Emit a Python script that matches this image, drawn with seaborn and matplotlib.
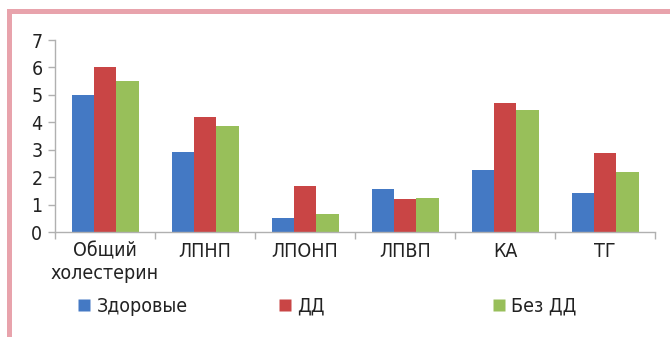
import matplotlib
matplotlib.use("Agg")
import matplotlib.pyplot as plt
from matplotlib.patches import Rectangle
from matplotlib.lines import Line2D
import seaborn as sns
import pandas as pd

categories = ["Общий\nхолестерин", "ЛПНП", "ЛПОНП", "ЛПВП", "КА", "ТГ"]
series_names = ["Здоровые", "ДД", "Без ДД"]
healthy = [5.0, 2.9, 0.5, 1.57, 2.25, 1.43]
dd = [6.0, 4.2, 1.68, 1.2, 4.72, 2.88]
no_dd = [5.5, 3.85, 0.66, 1.24, 4.45, 2.2]
y_ticks = [0, 1, 2, 3, 4, 5, 6, 7]
colors = ["#4479c4", "#c94545", "#98bf5a"]

df = pd.DataFrame({
    "cat": categories * 3,
    "series": [series_names[0]] * 6 + [series_names[1]] * 6 + [series_names[2]] * 6,
    "value": healthy + dd + no_dd,
})

sns.set_theme(style="white")
plt.rcParams["font.family"] = ["DejaVu Sans"]
plt.rcParams["font.stretch"] = "condensed"

fig = plt.figure(figsize=(6.7, 3.37), dpi=100)
fig.patch.set_facecolor("white")

# pink frame (top and left)
fig.add_artist(Rectangle((7 / 670, 0), 5 / 670, (337 - 9) / 337, transform=fig.transFigure,
                         facecolor="#e8a3ac", edgecolor="none"))
fig.add_artist(Rectangle((7 / 670, (337 - 14) / 337), 663 / 670, 5 / 337, transform=fig.transFigure,
                         facecolor="#e8a3ac", edgecolor="none"))

ax = fig.add_axes([55 / 670, 105 / 337, 600 / 670, 192 / 337])
ax.set_facecolor("white")
sns.barplot(data=df, x="cat", y="value", hue="series", palette=colors,
            width=0.67, saturation=1, ax=ax, legend=False, edgecolor="none")

ax.set_xlim(-0.5, 5.5)
ax.set_ylim(0, 7)
ax.set_yticks(y_ticks)
ax.set_xlabel("")
ax.set_ylabel("")
for s in ["top", "right"]:
    ax.spines[s].set_visible(False)
for s in ["left", "bottom"]:
    ax.spines[s].set_color("#b0b0b0")
    ax.spines[s].set_linewidth(1.0)

ax.tick_params(axis="y", which="major", length=5, width=1, color="#b0b0b0",
               labelsize=14, pad=4, labelcolor="#222222", left=True)
ax.tick_params(axis="x", which="major", length=0, labelsize=14, pad=7, labelcolor="#222222")
ax.set_xticks([i - 0.5 for i in range(7)], minor=True)
ax.tick_params(axis="x", which="minor", length=5, width=1, color="#b0b0b0", bottom=True, direction="out")
for t in ax.get_xticklabels() + ax.get_yticklabels():
    t.set_fontstretch("condensed")

# legend: three separate entries at Excel-like positions
entries = [(85, series_names[0], colors[0]), (286, series_names[1], colors[1]), (500, series_names[2], colors[2])]
for x, label, c in entries:
    h = Line2D([], [], marker="s", linestyle="none", markersize=8, markerfacecolor=c, markeredgecolor="none")
    leg = fig.legend([h], [label], loc="center left", bbox_to_anchor=((x - 8) / 670, (337 - 306) / 337),
                     frameon=False, fontsize=14, handlelength=0.7, handletextpad=0.3,
                     borderpad=0, borderaxespad=0)
    for t in leg.get_texts():
        t.set_color("#222222")
        t.set_fontstretch("condensed")

fig.savefig("out.png", dpi=100, facecolor="white")
